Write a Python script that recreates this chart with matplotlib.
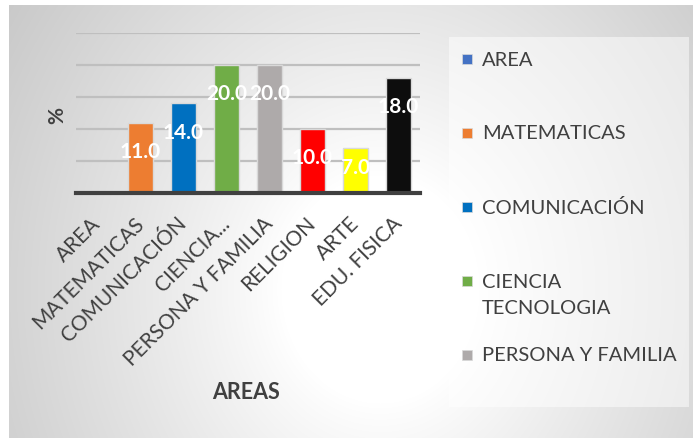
import numpy as np
import matplotlib
matplotlib.use('Agg')
import matplotlib.pyplot as plt
import matplotlib.transforms as mtransforms
from matplotlib.patches import Rectangle

plt.rcParams['font.family'] = ['Lato', 'DejaVu Sans']

areas = ['AREA', 'MATEMATICAS', 'COMUNICACIÓN', 'CIENCIA...', 'PERSONA Y FAMILIA',
         'RELIGION', 'ARTE', 'EDU. FISICA']
valores = [0, 11.0, 14.0, 20.0, 20.0, 10.0, 7.0, 18.0]
colores = ['#4472C4', '#ED7D31', '#0070C0', '#70AD47', '#AEAAAA',
           '#FF0000', '#FFFF00', '#0D0D0D']
leyenda = ['AREA', 'MATEMATICAS', 'COMUNICACIÓN', 'CIENCIA\nTECNOLOGIA', 'PERSONA Y FAMILIA']

W, H = 693, 439
fig = plt.figure(figsize=(W / 100, H / 100), dpi=100, facecolor='white')

# fondo degradado radial estilo Excel
bg = fig.add_axes([9 / W, 0, (W - 9) / W, (H - 6) / H])
yy, xx = np.mgrid[0:H - 6, 0:W - 9]
r = np.sqrt(((xx - 371) / 330.0) ** 2 + ((yy - 284) / 380.0) ** 2)
g = 1 - 0.21 * np.clip((r - 0.3) / 1.05, 0, 1) ** 0.9
bg.imshow(np.dstack([g, g, g]), aspect='auto', interpolation='bilinear')
bg.axis('off')

ax = fig.add_axes([76 / W, (H - 194) / H, (420 - 76) / W, (194 - 34) / H])
ax.patch.set_alpha(0)
x = np.arange(len(areas))
ax.bar(x, valores, width=0.58, color=colores, edgecolor='#D9D9D9', linewidth=1, zorder=3)
ax.set_xlim(-0.5, len(areas) - 0.5)
ax.set_ylim(0, 25)
ax.set_yticks([0, 5, 10, 15, 20, 25])
ax.yaxis.grid(True, color='#BFBFBF', linewidth=1.6, zorder=0)
ax.tick_params(axis='y', length=0, labelleft=False)
ax.tick_params(axis='x', length=0, pad=12)
for s in ['top', 'right', 'left']:
    ax.spines[s].set_visible(False)
ax.spines['bottom'].set_color('#404040')
ax.spines['bottom'].set_linewidth(3)
ax.spines['bottom'].set_zorder(4)

ax.set_xticks(x)
ax.set_xticklabels(areas, rotation=45, ha='right', rotation_mode='anchor',
                   fontsize=15, color='#404040')
desplazar = mtransforms.ScaledTranslation(-7 / 100, -3 / 100, fig.dpi_scale_trans)
for lbl in ax.get_xticklabels():
    lbl.set_transform(lbl.get_transform() + desplazar)

for xi, v in zip(x, valores):
    if v:
        ax.text(xi, max(v - 4.4, v * 0.57), f'{v:.1f}', ha='center', va='center',
                color='white', fontsize=15, fontweight='bold', zorder=5, clip_on=True)

fig.text(57 / W, 1 - 115 / H, '%', rotation=90, ha='center', va='center',
         fontsize=15, fontweight='bold', color='#404040')
fig.text(246 / W, 1 - 393 / H, 'AREAS', ha='center', va='center',
         fontsize=15.5, fontweight='bold', color='#404040')

# leyenda
fig.patches.append(Rectangle((449 / W, 1 - 408 / H), 240 / W, 370 / H,
                             transform=fig.transFigure, facecolor='white',
                             alpha=0.5, edgecolor='none'))
for i, (lab, c) in enumerate(zip(leyenda, colores)):
    y0 = 60 + 74 * i
    fig.patches.append(Rectangle((462 / W, 1 - (y0 + 5) / H), 10 / W, 10 / H,
                                 transform=fig.transFigure, facecolor=c,
                                 edgecolor='#D9D9D9', linewidth=0.5))
    for j, linea in enumerate(lab.split('\n')):
        fig.text(482 / W, 1 - (y0 + 27 * j) / H, linea, ha='left', va='center',
                 fontsize=14.5, color='#404040')

fig.savefig('out.png', dpi=100)
